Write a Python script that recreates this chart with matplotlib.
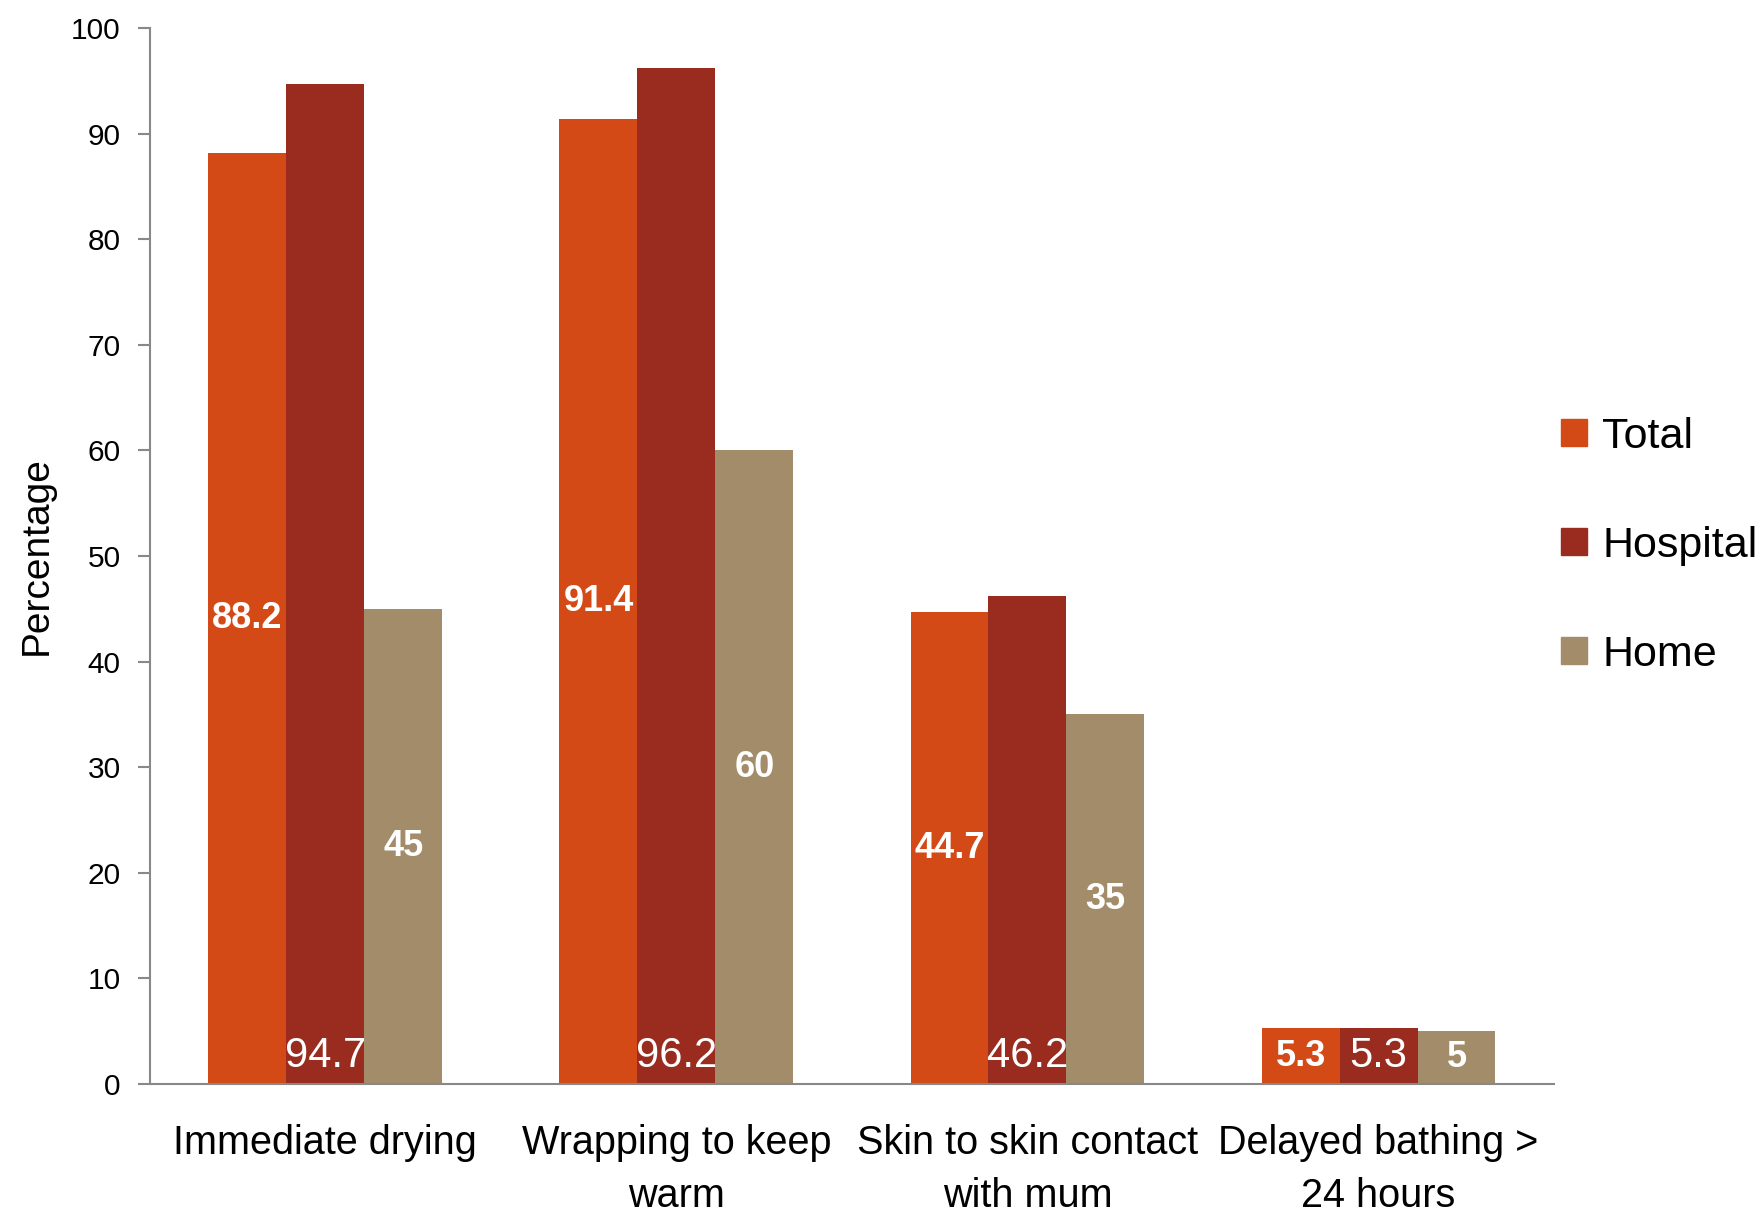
import numpy as np
import matplotlib.pyplot as plt
from matplotlib.patches import Patch

categories = ['Immediate drying', 'Wrapping to keep\nwarm', 'Skin to skin contact\nwith mum',
              'Delayed bathing >\n24 hours']
series_names = ['Total', 'Hospital', 'Home']
total = [88.2, 91.4, 44.7, 5.3]
hospital = [94.7, 96.2, 46.2, 5.3]
home = [45, 60, 35, 5]
colors = ['#D34A17', '#992B1F', '#A38C6A']

font = ['Liberation Sans', 'DejaVu Sans']
plt.rcParams['font.family'] = font

fig = plt.figure(figsize=(17.62, 12.18), dpi=100)
ax = fig.add_axes([0.085, 0.110, 0.797, 0.867])

x = np.arange(len(categories))
w = 0.222
b_total = ax.bar(x - w, total, w, color=colors[0])
b_hosp = ax.bar(x, hospital, w, color=colors[1])
b_home = ax.bar(x + w, home, w, color=colors[2])

# Total and Home values centred in the bar, Hospital at the inside base
for rect, v in zip(b_total, total):
    ax.text(rect.get_x() + rect.get_width() / 2, v / 2, f'{v:g}', ha='center', va='center',
            color='white', fontsize=26, fontweight='bold')
for rect, v in zip(b_home, home):
    ax.text(rect.get_x() + rect.get_width() / 2, v / 2, f'{v:g}', ha='center', va='center',
            color='white', fontsize=26, fontweight='bold')
for rect, v in zip(b_hosp, hospital):
    ax.annotate(f'{v:g}', (rect.get_x() + rect.get_width() / 2, 0), xytext=(0, 6),
                textcoords='offset points', ha='center', va='bottom',
                color='white', fontsize=30)

ax.set_xlim(-0.5, len(categories) - 0.5)
ax.set_ylim(0, 100)
ax.set_yticks(range(0, 101, 10))
ax.set_xticks(x)
ax.set_xticklabels(categories, fontsize=28.5, linespacing=1.5)
ax.tick_params(axis='y', labelsize=21.5, length=9, width=1.5, color='#888888', pad=12)
ax.tick_params(axis='x', length=0, pad=29)
for s in ['top', 'right']:
    ax.spines[s].set_visible(False)
for s in ['left', 'bottom']:
    ax.spines[s].set_color('#888888')
    ax.spines[s].set_linewidth(1.5)

ax.set_ylabel('Percentage', fontsize=28, labelpad=12)

handles = [Patch(color=c) for c in colors]
fig.legend(handles, series_names, loc='center left', bbox_to_anchor=(0.864, 0.552),
           frameon=False, prop={'size': 31},
           handlelength=0.6, handleheight=0.6, handletextpad=0.35, labelspacing=1.6)

fig.savefig('out.png', dpi=100)
